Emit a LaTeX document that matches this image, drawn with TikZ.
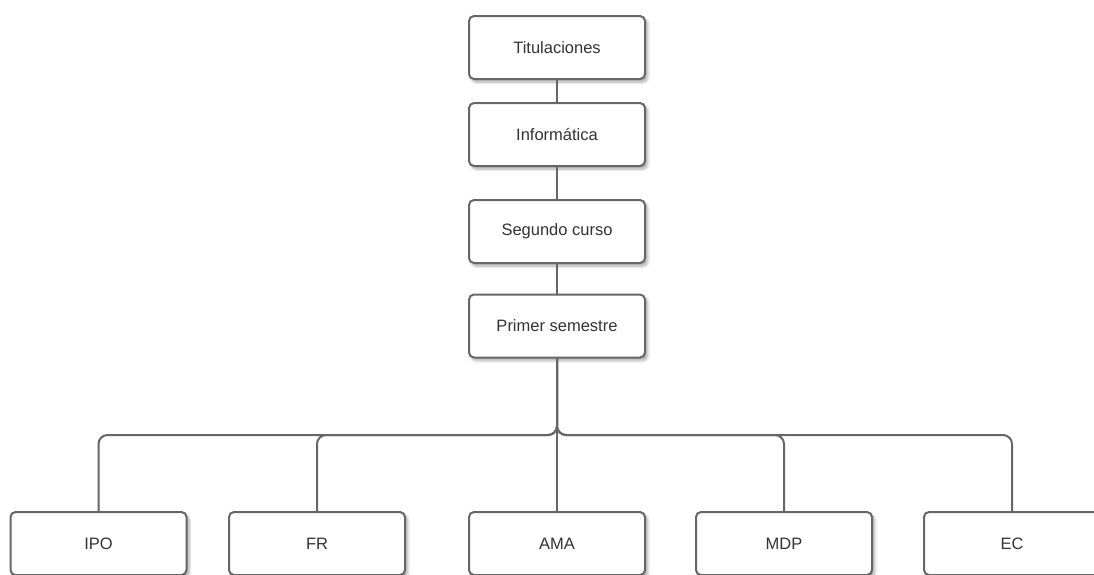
\documentclass[tikz,border=0pt]{standalone}
\usepackage{fontspec}
\setmainfont{Liberation Sans}
\usetikzlibrary{shadows,shadows.blur}
\definecolor{edgegray}{HTML}{666666}
\definecolor{textgray}{HTML}{333333}
\tikzset{
  box/.style={draw=edgegray, line width=2pt, rounded corners=5pt, fill=white,
    minimum width=176pt, minimum height=63pt, inner sep=0pt,
    font=\fontsize{16.5}{19}\selectfont, text=textgray,
    blur shadow={shadow xshift=2.5pt, shadow yshift=-3pt, shadow blur steps=6, shadow blur radius=3pt, shadow opacity=35}},
  conn/.style={draw=edgegray, line width=2pt, rounded corners=9pt}
}
\begin{document}
\begin{tikzpicture}[x=1pt, y=-1pt]
  \useasboundingbox (0,0) rectangle (1094,574);
  \clip (0,0) rectangle (1094,574);
  % chain of levels
  \node[box] (tit) at (557,47.5) {Titulaciones};
  \node[box] (inf) at (557,134.5) {Informática};
  \node[box] (seg) at (557,231.5) {Segundo curso};
  \node[box] (pri) at (557,326) {Primer semestre};
  % subjects of the semester
  \node[box] (ipo) at (98.5,543.5) {IPO};
  \node[box] (fr)  at (317,543.5) {FR};
  \node[box] (ama) at (557,543.5) {AMA};
  \node[box] (mdp) at (784,543.5) {MDP};
  \node[box] (ec)  at (1012,543.5) {EC};
  \coordinate (bus) at (557,435);
  % connectors
  \draw[conn] (tit.south) -- (inf.north);
  \draw[conn] (inf.south) -- (seg.north);
  \draw[conn] (seg.south) -- (pri.north);
  \draw[conn] (pri.south) -- (ama.north);
  \foreach \c in {ipo,fr,mdp,ec}
    \draw[conn] (pri.south) -- (pri.south |- bus) -| (\c.north);
\end{tikzpicture}
\end{document}
